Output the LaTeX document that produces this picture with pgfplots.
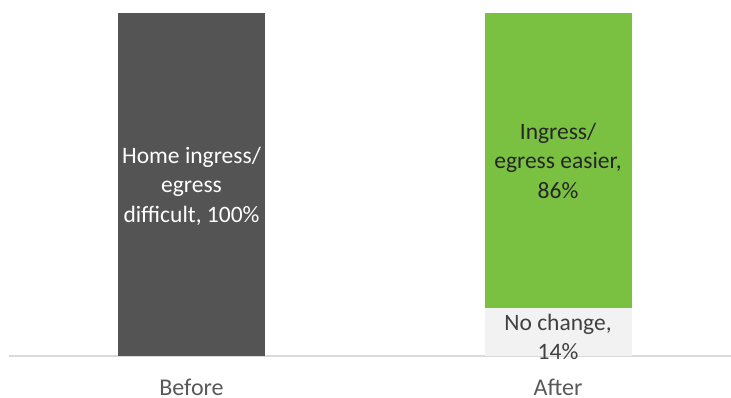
\documentclass[border=0pt]{standalone}
\usepackage{pgfplots}
\pgfplotsset{compat=1.18}
\usepackage{fontspec}
\setmainfont{Carlito}
\definecolor{darkbar}{HTML}{545454}
\definecolor{greenbar}{HTML}{7AC142}
\definecolor{lightbar}{HTML}{F2F2F2}
\definecolor{axisline}{HTML}{D9D9D9}
\definecolor{labelgray}{HTML}{595959}
\begin{document}
\begin{tikzpicture}[x=1pt,y=1pt]
\path[use as bounding box] (0,0) rectangle (731,397);
\begin{axis}[
  at={(9pt,41pt)}, anchor=south west,
  scale only axis, width=722pt, height=343pt,
  xmin=-0.498, xmax=1.472, ymin=0, ymax=100,
  ybar stacked, bar width=147pt,
  axis y line=none,
  axis x line*=bottom,
  x axis line style={draw=axisline, line width=1.5pt, -},
  xtick={0,1}, xticklabels={Before,After},
  major tick length=0pt,
  xticklabel style={font=\fontsize{24}{28}\selectfont, text=labelgray, anchor=base, inner sep=0pt, yshift=-39pt},
  clip=false,
]
\addplot[fill=darkbar, draw=none] coordinates {(0,100) (1,0)};
\addplot[fill=lightbar, draw=none] coordinates {(0,0) (1,14)};
\addplot[fill=greenbar, draw=none] coordinates {(0,0) (1,86)};
\coordinate (la) at (axis cs:0,49.5);
\coordinate (lb) at (axis cs:1,57);
\coordinate (lc) at (axis cs:1,5.5);
\end{axis}
\node[align=center, text=white, font=\fontsize{23.5}{29.5}\selectfont] at (la) {Home ingress/\\egress\\difficult, 100\%};
\node[align=center, text=black!85, font=\fontsize{23.5}{29.5}\selectfont] at (lb) {Ingress/\\egress easier,\\86\%};
\node[align=center, text=black!75, font=\fontsize{23.5}{29.5}\selectfont] at (lc) {No change,\\14\%};
\end{tikzpicture}
\end{document}
